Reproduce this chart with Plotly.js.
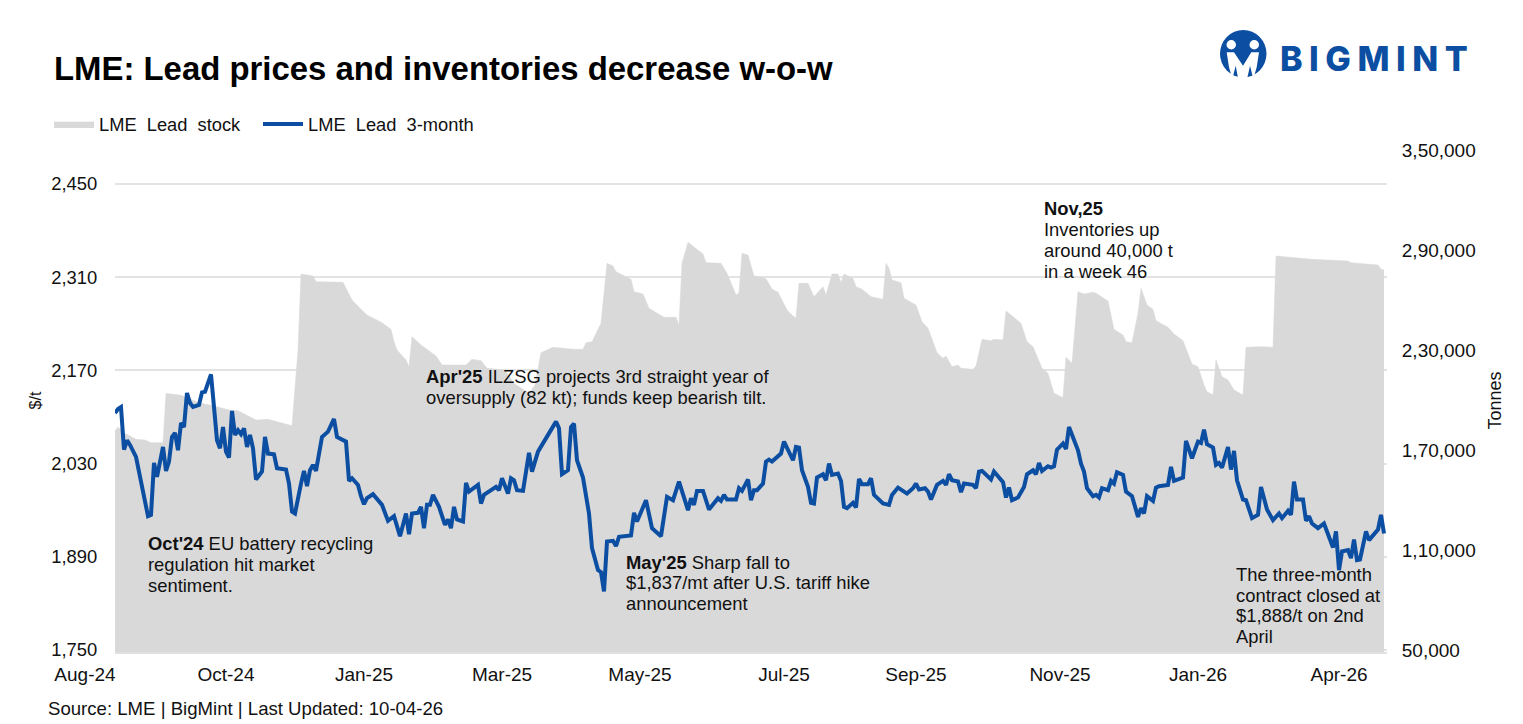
<!DOCTYPE html>
<html>
<head>
<meta charset="utf-8">
<script src="https://cdn.plot.ly/plotly-3.0.1.min.js"></script>
<style>html,body{margin:0;padding:0;background:#fff}</style>
</head>
<body>
<div id="chart" style="width:1523px;height:724px"></div>
<script>
// trading-session index along the category-style x axis (0 = first session shown)
const priceSessions = [0,1,2,3,4,5,7,8,9,11,12,13,14,16,17,18,19,20,21,22,23,24,25,26,28,29,30,31,32,33,34,35,36,37,38,39,40,41,42,43,44,45,46,47,49,50,51,53,54,57,58,59,60,62,63,64,65,66,67,69,71,73,74,77,78,79,81,82,83,84,86,89,91,93,95,97,98,99,101,102,103,104,105,106,108,110,111,112,113,114,116,117,118,121,122,123,127,128,129,131,132,133,134,136,138,139,141,147,148,149,151,152,153,154,155,156,158,159,161,162,163,164,166,167,168,172,173,174,177,179,182,184,186,188,191,192,193,194,196,198,201,202,203,204,207,208,209,211,212,213,214,216,217,218,219,222,223,226,227,228,229,231,232,233,234,236,237,238,239,241,242,243,244,246,247,248,249,251,252,253,256,258,259,261,264,266,267,268,270,271,272,274,276,277,278,279,281,282,283,286,287,288,289,292,293,296,297,298,299,301,303,304,306,307,308,309,311,312,313,314,316,317,318,321,322,323,324,326,327,328,329,331,332,333,334,336,337,339,341,342,343,344,346,347,348,351,352,353,356,357,359,361,362,363,364,366,367,368,369,371,372,373,374,376,377,378,379,381,382,384,386,388,389,391,392,393,394,396,397,398,399,401,403,406,407,408,409,411,412,413,414,415,416,417,418,421,422,423];
const priceValues = [2106,2112,2115,2051,2065,2058,2040,2016,1993,1951,1953,2031,2010,2055,2019,2033,2070,2076,2050,2091,2085,2136,2121,2115,2118,2137,2138,2151,2164,2115,2065,2053,2085,2048,2039,2109,2073,2080,2074,2083,2055,2073,2053,2006,2018,2070,2045,2044,2023,2021,2000,1958,1955,2000,2019,1996,2020,2028,2019,2070,2078,2097,2070,2063,2004,2008,1998,1981,1969,1978,1984,1968,1944,1951,1921,1955,1924,1955,1956,1965,1933,1968,1968,1983,1965,1938,1946,1933,1965,1946,1943,2001,1988,1998,1970,1983,1995,1990,2008,1985,2008,2005,1990,1989,2046,2018,2048,2093,2083,2014,2020,2085,2090,2035,2023,2009,1955,1903,1870,1867,1838,1913,1914,1906,1920,1922,1956,1943,1975,1933,1921,1980,1975,2003,1960,1978,1968,1989,1989,1961,1978,1974,1983,1976,1976,1993,1989,2006,1975,1990,1990,2000,2033,2036,2033,2045,2063,2035,2055,2054,2020,1995,1971,1970,2009,2014,2005,2030,2013,2015,2004,1965,1963,1971,1964,2007,1999,1999,2008,1983,1970,1968,1983,1994,1985,1993,2000,1991,1993,1988,1976,1998,2004,1998,2014,2005,2003,1987,2000,1998,1993,2018,2019,2006,2018,2002,1979,1994,1975,1979,1995,2014,2020,2014,2031,2019,2026,2024,2026,2051,2060,2052,2085,2050,2030,2018,1993,1981,1983,1979,1993,1990,2004,2000,2017,2013,1988,1981,1950,1963,1955,1981,1974,1994,1996,1998,2025,2004,2009,2064,2038,2063,2061,2081,2059,2054,2028,2031,2024,2055,2021,2049,2005,1976,1975,1959,1948,1953,1995,1961,1945,1955,1948,1959,1953,2003,1976,1976,1944,1951,1940,1933,1940,1904,1928,1870,1898,1900,1888,1916,1885,1886,1910,1928,1915,1931,1953,1925];
const stockSessions = [0,1,3,7,10,12,16,17,22,28,33,38,41,47,51,54,59,61,62,66,67,76,79,82,84,89,92,93,94,97,98,99,102,107,109,117,119,122,124,130,133,138,140,142,146,153,156,157,159,162,163,164,166,167,172,173,176,178,183,187,188,189,191,196,197,202,204,207,208,209,211,213,217,219,221,224,226,227,228,231,233,236,237,239,241,242,243,246,247,249,252,256,257,258,259,262,263,267,269,271,274,276,277,279,281,282,286,287,289,291,292,293,296,297,299,302,304,306,309,311,313,316,317,319,321,323,326,327,331,333,336,337,339,341,342,344,346,347,351,353,356,359,361,363,364,366,367,369,371,373,376,377,382,386,387,393,399,411,412,421,422,423];
const stockValues = [181600,183600,180400,176400,176000,174400,174400,204000,202800,198400,196400,194000,193600,188000,188400,187000,184600,230000,275600,274400,271000,270600,260000,254400,251000,246400,242400,235000,230000,224000,220000,238000,233000,226400,221000,221000,224400,223600,219000,218000,210000,204000,209000,228400,231600,230400,230400,234400,235000,246000,264000,282000,280400,277000,272400,265000,263600,255000,249600,249600,245000,282000,294600,287600,282400,282000,276000,263000,264200,288000,287000,274400,272800,266600,264600,254000,250400,249200,270000,270000,262000,268000,263000,275600,275600,270400,275600,273000,268000,266400,262000,260400,282000,279000,272000,270400,261000,257000,247000,243000,228400,225000,226400,220000,221000,219000,218400,220400,236400,236000,235600,236400,236000,253400,250400,246000,235000,232000,219000,216000,204000,201400,225600,222000,265000,263600,264600,264000,259400,242400,239000,235000,234400,252000,267000,257000,254400,247600,243600,239600,235600,221600,220000,209000,205000,203000,224000,214000,212000,206000,203000,231600,232000,231600,286400,285600,284400,283400,282400,281000,278400,278000];
// axis tick values and labels
const sessionTicks = [0,47,93,139,185,233,277,325,371,418];
const sessionLabels = ['Aug-24','Oct-24','Jan-25','Mar-25','May-25','Jul-25','Sep-25','Nov-25','Jan-26','Apr-26'];
const priceTicks = [1750,1890,2030,2170,2310,2450];
const priceLabels = ['1,750','1,890','2,030','2,170','2,310','2,450'];
const stockTicks = [50000,110000,170000,230000,290000,350000];
const stockLabels = ['50,000','1,10,000','1,70,000','2,30,000','2,90,000','3,50,000'];

const BLUE = '#0B4EA2', GREY = '#D9D9D9', INK = '#111111';
const FONT = '"Liberation Sans", Arial, sans-serif';
const W = 1523, H = 724, L = 115, R = 1387, T = 149, B = 652;
const fx = x => (x - L) / (R - L);
const fy = y => (B - y) / (B - T);

const noteLines = [
  {x:147, y:543, text:"<b>Oct'24</b> EU battery recycling"},
  {x:147, y:564, text:'regulation hit market'},
  {x:147, y:585, text:'sentiment.'},
  {x:425, y:376, text:"<b>Apr'25</b> ILZSG projects 3rd straight year of"},
  {x:425, y:397, text:'oversupply (82 kt); funds keep bearish tilt.'},
  {x:625, y:562, text:"<b>May'25</b> Sharp fall to"},
  {x:625, y:582, text:'$1,837/mt after U.S. tariff hike'},
  {x:625, y:603, text:'announcement'},
  {x:1043, y:208, text:'<b>Nov,25</b>'},
  {x:1043, y:229, text:'Inventories up'},
  {x:1043, y:250, text:'around 40,000 t'},
  {x:1043, y:271, text:'in a week 46'},
  {x:1235, y:574, text:'The three-month'},
  {x:1235, y:595, text:'contract closed at'},
  {x:1235, y:615, text:'$1,888/t on 2nd'},
  {x:1235, y:636, text:'April'}
];

const annotations = noteLines.map(n => ({
  xref:'paper', yref:'paper', x:fx(n.x), y:fy(n.y), xanchor:'left', yanchor:'middle',
  text:n.text, showarrow:false, align:'left', borderpad:0,
  font:{family:FONT, size:18.4, color:INK}
}));
annotations.push({
  xref:'paper', yref:'paper', x:fx(47), y:fy(708), xanchor:'left', yanchor:'middle', showarrow:false,
  text:'Source: LME | BigMint | Last Updated: 10-04-26', borderpad:0,
  font:{family:FONT, size:18.6, color:INK}
});
annotations.push({
  xref:'paper', yref:'paper', x:fx(1279), y:fy(59), xanchor:'left', yanchor:'middle', showarrow:false, borderpad:0,
  text:'<span style="letter-spacing:6.5px">BIGMINT</span>',
  font:{family:'Inter, "Open Sans", sans-serif', size:34, weight:800, color:BLUE}
});

const pathOf = pts => 'M' + pts.map(p => fx(p[0]) + ' ' + fy(p[1])).join(' L') + ' Z';
const shapes = [
  {type:'circle', xref:'paper', yref:'paper', x0:fx(1220), x1:fx(1266.5), y0:fy(30), y1:fy(77.5), fillcolor:BLUE, line:{width:0}},
  {type:'circle', xref:'paper', yref:'paper', x0:fx(1226.5), x1:fx(1236), y0:fy(40), y1:fy(49.5), fillcolor:'#fff', line:{width:0}},
  {type:'circle', xref:'paper', yref:'paper', x0:fx(1249.5), x1:fx(1259), y0:fy(40), y1:fy(49.5), fillcolor:'#fff', line:{width:0}},
  {type:'path', xref:'paper', yref:'paper', fillcolor:'#fff', line:{width:0},
   path:pathOf([[1226.7,52.3],[1234,52.3],[1243,65.7],[1251.3,52.3],[1259,52.3],[1256.7,67.3],[1253.3,79],[1250,65.7],[1247.3,78],[1238,78],[1235.7,65.7],[1232.3,79],[1229,67.3]])}
];

const traces = [
  {name:'LME\u00A0\u00A0Lead\u00A0\u00A0stock', x:stockSessions, y:stockValues, type:'scatter', mode:'lines',
   yaxis:'y', line:{color:GREY, width:0.5}, fill:'tozeroy', fillcolor:GREY, hoverinfo:'skip', legend:'legend'},
  {name:'LME\u00A0\u00A0Lead\u00A0\u00A03-month', x:priceSessions, y:priceValues, type:'scatter', mode:'lines',
   yaxis:'y2', line:{color:BLUE, width:4, shape:'linear'}, legend:'legend2'}
];

const legendBase = {orientation:'h', xanchor:'left', y:fy(124), yanchor:'middle', itemwidth:40,
  font:{family:FONT, size:18.3, color:INK}, bgcolor:'rgba(0,0,0,0)', itemclick:false, itemdoubleclick:false};

const layout = {
  width:W, height:H, margin:{l:L, r:W-R, t:T, b:H-B},
  paper_bgcolor:'#fff', plot_bgcolor:'#fff',
  font:{family:FONT, size:18, color:INK},
  title:{text:'<b>LME: Lead prices and inventories decrease w-o-w</b>', xref:'container', yref:'container',
         x:54/W, xanchor:'left', y:1-68/H, yanchor:'middle', font:{family:FONT, size:32.9, color:'#000'}},
  showlegend:true,
  legend:Object.assign({x:fx(49)}, legendBase),
  legend2:Object.assign({x:fx(258)}, legendBase),
  xaxis:{range:[0,424], tickmode:'array', tickvals:sessionTicks, ticktext:sessionLabels, ticklabelshift:-30,
         ticks:'outside', ticklen:4, tickcolor:'rgba(0,0,0,0)', showgrid:false, zeroline:false,
         showline:true, linecolor:'#E0E0E0', linewidth:1.5, tickfont:{family:FONT, size:19, color:INK}, tickangle:0},
  // the right-hand stock axis is the base axis so that the filled area sits below the price line
  yaxis:{side:'right', range:[48800,350600], tickmode:'array', tickvals:stockTicks, ticktext:stockLabels,
         ticks:'outside', ticklen:10, tickcolor:'rgba(0,0,0,0)', showgrid:false, zeroline:false, showline:false,
         tickfont:{family:FONT, size:19, color:INK},
         title:{text:'Tonnes', standoff:13, font:{family:FONT, size:18, color:INK}}},
  yaxis2:{side:'left', overlaying:'y', range:[1747,2502.5], tickmode:'array', tickvals:priceTicks, ticktext:priceLabels,
          ticks:'outside', ticklen:13, tickcolor:'rgba(0,0,0,0)', showgrid:true, gridcolor:'#E3E3E3', gridwidth:1.5, zeroline:false, showline:false,
          tickfont:{family:FONT, size:18.4, color:INK},
          title:{text:'$/t', standoff:5, font:{family:FONT, size:16, color:INK}}},
  annotations, shapes
};
Plotly.newPlot('chart', traces, layout, {displayModeBar:false, responsive:false});
</script>
</body>
</html>
